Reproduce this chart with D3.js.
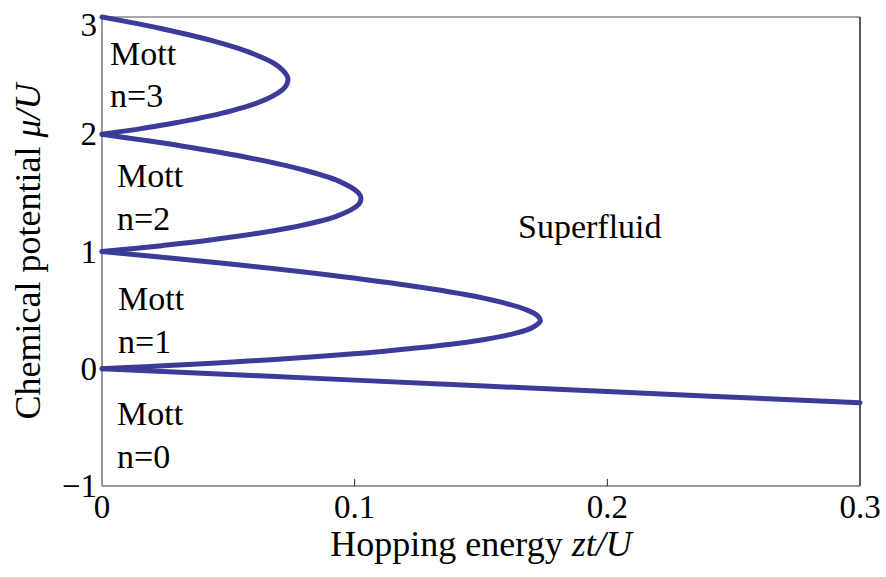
<!DOCTYPE html>
<html>
<head>
<meta charset="utf-8">
<script src="https://cdn.jsdelivr.net/npm/d3@7"></script>
<style>
  body { margin: 0; background: #fff; }
  svg { display: block; }
  text { font-family: "Liberation Serif", "Times New Roman", serif; fill: #000; }
</style>
</head>
<body>
<svg width="886" height="577"></svg>
<script>
// Phase boundaries (hopping zt/U, chemical potential mu/U)
var lobe1Zt = [0, 0.0098, 0.0192, 0.0283, 0.0455, 0.0825, 0.1118, 0.1345, 0.1515, 0.1630, 0.1702, 0.1735, 0.1725, 0.1683, 0.1515, 0.1247, 0.0898, 0.0479, 0];
var lobe1Mu = [0, 0.01, 0.02, 0.03, 0.05, 0.10, 0.15, 0.20, 0.25, 0.30, 0.35, 0.41, 0.45, 0.50, 0.60, 0.70, 0.80, 0.90, 1.00];

var lobe2Zt = [0, 0.0236, 0.0436, 0.0738, 0.0927, 0.1015, 0.1025, 0.1015, 0.0937, 0.0790, 0.0580, 0.0315, 0.0163, 0];
var lobe2Mu = [1.00, 1.05, 1.10, 1.20, 1.30, 1.40, 1.45, 1.50, 1.60, 1.70, 1.80, 1.90, 1.95, 2.00];

var lobe3Zt = [0, 0.0160, 0.0297, 0.0512, 0.0652, 0.0724, 0.0736, 0.0732, 0.0684, 0.0582, 0.0432, 0.0237, 0.0123, 0];
var lobe3Mu = [2.00, 2.05, 2.10, 2.20, 2.30, 2.40, 2.46, 2.50, 2.60, 2.70, 2.80, 2.90, 2.95, 3.00];

var lobe0Zt = [0, 0.1, 0.2, 0.3];
var lobe0Mu = [0, -0.097, -0.195, -0.29];

var xTicks = [0, 0.1, 0.2, 0.3];
var xTickLabels = ["0", "0.1", "0.2", "0.3"];
var yTicks = [-1, 0, 1, 2, 3];
var yTickLabels = ["\u22121", "0", "1", "2", "3"];

var svg = d3.select("svg");

var x = d3.scaleLinear().domain([0, 0.3]).range([102, 860]);
var y = d3.scaleLinear().domain([-1, 3]).range([486, 17]);

var blue = "#3b3b9a";

function pairs(zt, mu) {
    return zt.map(function (d, i) { return [d, mu[i]]; });
}

var line = d3.line()
    .x(function (d) { return x(d[0]); })
    .y(function (d) { return y(d[1]); })
    .curve(d3.curveCatmullRom.alpha(0.5));

// frame
var frame = svg.append("g");
frame.append("line").attr("x1", x(0)).attr("x2", x(0.3)).attr("y1", y(3)).attr("y2", y(3))
    .attr("stroke", "#888").attr("stroke-width", 1.5);
frame.append("line").attr("x1", x(0.3)).attr("x2", x(0.3)).attr("y1", y(3)).attr("y2", y(-1))
    .attr("stroke", "#222").attr("stroke-width", 1.5);
frame.append("line").attr("x1", x(0)).attr("x2", x(0)).attr("y1", y(3)).attr("y2", y(-1))
    .attr("stroke", "#777").attr("stroke-width", 1.5);
frame.append("line").attr("x1", x(0)).attr("x2", x(0.3)).attr("y1", y(-1)).attr("y2", y(-1))
    .attr("stroke", "#777").attr("stroke-width", 1.5);

// ticks (inward)
svg.append("g").selectAll("line")
    .data(xTicks.slice(1, -1))
    .enter().append("line")
    .attr("x1", function (d) { return x(d); })
    .attr("x2", function (d) { return x(d); })
    .attr("y1", y(-1))
    .attr("y2", y(-1) - 7)
    .attr("stroke", "#222").attr("stroke-width", 1);

svg.append("g").selectAll("line")
    .data(yTicks.slice(1, -1))
    .enter().append("line")
    .attr("x1", x(0))
    .attr("x2", x(0) + 5)
    .attr("y1", function (d) { return y(d); })
    .attr("y2", function (d) { return y(d); })
    .attr("stroke", "#222").attr("stroke-width", 1);

// tick labels
svg.append("g").selectAll("text")
    .data(xTicks)
    .enter().append("text")
    .attr("x", function (d) { return x(d); })
    .attr("y", 518)
    .attr("text-anchor", "middle")
    .style("font-size", "33px")
    .text(function (d, i) { return xTickLabels[i]; });

svg.append("g").selectAll("text")
    .data(yTicks)
    .enter().append("text")
    .attr("x", 97)
    .attr("y", function (d) { return Math.max(y(d) + 11, 36); })
    .attr("text-anchor", "end")
    .style("font-size", "33px")
    .text(function (d, i) { return yTickLabels[i]; });

// axis titles
var xTitle = svg.append("text")
    .attr("x", (x(0) + x(0.3)) / 2)
    .attr("y", 556)
    .attr("text-anchor", "middle")
    .style("font-size", "36px");
xTitle.append("tspan").text("Hopping energy ");
xTitle.append("tspan").style("font-style", "italic").text("zt/U");

var yTitle = svg.append("text")
    .attr("transform", "translate(40," + ((y(3) + y(-1)) / 2) + ") rotate(-90)")
    .attr("text-anchor", "middle")
    .style("font-size", "36px");
yTitle.append("tspan").text("Chemical potential ");
yTitle.append("tspan").style("font-style", "italic").text("\u03bc/U");

// phase boundaries
var curves = [pairs(lobe0Zt, lobe0Mu), pairs(lobe1Zt, lobe1Mu), pairs(lobe2Zt, lobe2Mu), pairs(lobe3Zt, lobe3Mu)];
svg.append("g").selectAll("path")
    .data(curves)
    .enter().append("path")
    .attr("d", line)
    .attr("fill", "none")
    .attr("stroke", blue)
    .attr("stroke-width", 5)
    .attr("stroke-linecap", "round")
    .attr("stroke-linejoin", "round");

// region labels
var labels = [
    { t: "Mott", x: 110, y: 65 }, { t: "n=3", x: 110, y: 107 },
    { t: "Mott", x: 117, y: 187 }, { t: "n=2", x: 117, y: 230 },
    { t: "Mott", x: 118, y: 310 }, { t: "n=1", x: 118, y: 353 },
    { t: "Mott", x: 117, y: 425 }, { t: "n=0", x: 117, y: 468 },
    { t: "Superfluid", x: 518, y: 238 }
];
svg.append("g").selectAll("text")
    .data(labels)
    .enter().append("text")
    .attr("x", function (d) { return d.x; })
    .attr("y", function (d) { return d.y; })
    .style("font-size", "34px")
    .text(function (d) { return d.t; });
</script>
</body>
</html>
